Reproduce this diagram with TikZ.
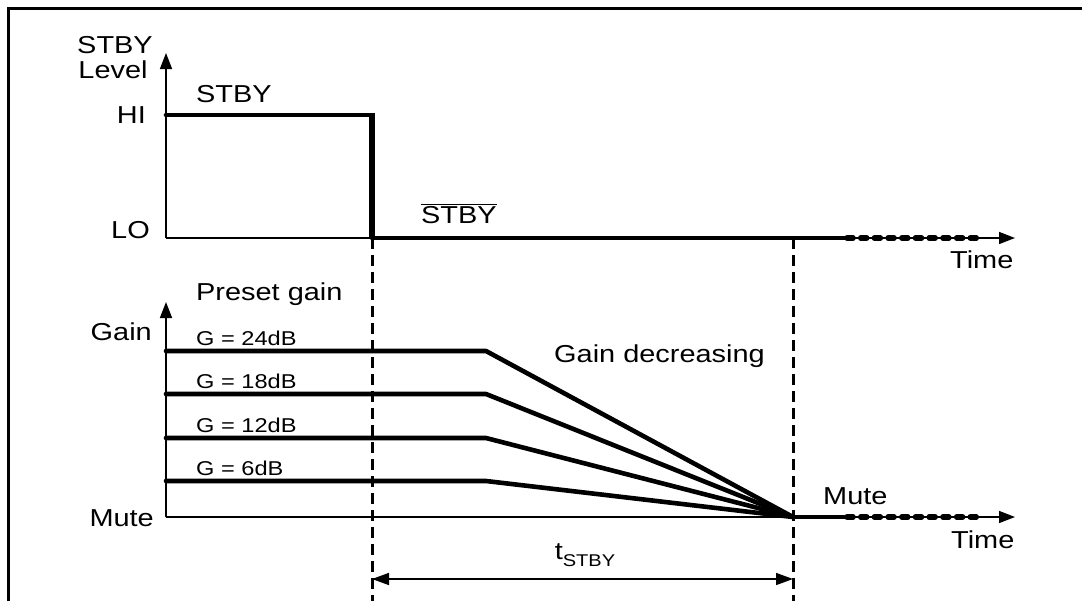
\documentclass[tikz,border=0pt]{standalone}
\usepackage{fontspec}
\setmainfont{Liberation Sans}[FakeStretch=1.18]
\usetikzlibrary{arrows.meta}
\tikzset{
  axis/.style={line width=1.6pt,-{Triangle[length=16pt,width=12pt]}},
  level/.style={line width=4.6pt,line cap=round,line join=round},
  dotline/.style={line width=5.5pt,line cap=round,dash pattern=on 6pt off 7.7pt},
  marker/.style={line width=3pt,dash pattern=on 11pt off 6pt},
  dimarrow/.style={line width=1.6pt,{Triangle[length=17pt,width=12pt]}-{Triangle[length=17pt,width=12pt]}},
  big/.style={inner sep=0pt,font=\fontsize{24.5}{28}\selectfont},
  small/.style={inner sep=0pt,font=\fontsize{20}{24}\selectfont},
}
\begin{document}
\begin{tikzpicture}[x=1pt,y=-1pt]
\useasboundingbox (0,0) rectangle (1082,600);
\clip (0,0) rectangle (1082,600);
% frame
\draw[line width=3pt] (8,610) -- (8,8) -- (1090,8);

% ---------- upper plot ----------
\coordinate (uo) at (166,238);
\coordinate (uy) at (166,53);
\coordinate (ux) at (1015,238);
\coordinate (hi0) at (166,115);
\coordinate (hi1) at (372,115);
\coordinate (lo0) at (372,238);
\coordinate (lo1) at (847,238);
\coordinate (lo2) at (983,238);
\draw[axis] (uo) -- (uy);
\draw[axis] (uo) -- (ux);
\draw[level] (hi0) -- (hi1);
\draw[line width=5.5pt] (372,112.7) -- (lo0);
\draw[level] (lo0) -- (lo1);
\draw[dotline] (lo1) -- (lo2);

\node[big,anchor=base] (ylab1) at (115,53) {STBY};
\node[big,anchor=base] (ylab2) at (113,78) {Level};
\node[big,anchor=base east] (hil) at (146,123) {HI};
\node[big,anchor=base east] (lol) at (150,238) {LO};
\node[big,anchor=base west] (stbyl) at (196,102) {STBY};
\node[big,anchor=base west] (nstbyl) at (421,223) {$\overline{\hbox{STBY}}$};
\node[big,anchor=base west] (time1) at (950,268) {Time};

% ---------- lower plot ----------
\coordinate (lo) at (166,517);
\coordinate (ly) at (166,302);
\coordinate (lx) at (1015,517);
\coordinate (conv) at (793,517);
\coordinate (m1) at (847,517);
\coordinate (m2) at (978,517);
\draw[axis] (lo) -- (ly);
\draw[axis] (lo) -- (lx);
\foreach \yy in {351,394,438,481}{
  \draw[level] (166,\yy) -- (486,\yy) -- (conv);
}
\draw[level] (conv) -- (m1);
\draw[dotline] (m1) -- (m2);

\node[big,anchor=base east] (gainl) at (152,340) {Gain};
\node[big,anchor=base east] (mutel) at (154,526) {Mute};
\node[big,anchor=base west] (preset) at (196,300) {Preset gain};
\node[small,anchor=base west] (g24) at (196,345) {G = 24dB};
\node[small,anchor=base west] (g18) at (196,388) {G = 18dB};
\node[small,anchor=base west] (g12) at (196,432) {G = 12dB};
\node[small,anchor=base west] (g6) at (196,475) {G = 6dB};
\node[big,anchor=base west] (dec) at (554,362) {Gain decreasing};
\node[big,anchor=base west] (muter) at (823,504) {Mute};
\node[big,anchor=base west] (time2) at (951,548) {Time};

% ---------- markers ----------
\coordinate (d1a) at (372,238);
\coordinate (d1b) at (372,605);
\coordinate (d2a) at (793,238);
\coordinate (d2b) at (793,605);
\draw[marker] (d1a) -- (d1b);
\draw[marker] (d2a) -- (d2b);
\coordinate (a1) at (372,579);
\coordinate (a2) at (793,579);
\draw[dimarrow] (a1) -- (a2);
\node[big,anchor=base] (tl) at (585,559) {t\raisebox{-7pt}{\fontsize{17}{20}\selectfont STBY}};
\end{tikzpicture}
\end{document}
